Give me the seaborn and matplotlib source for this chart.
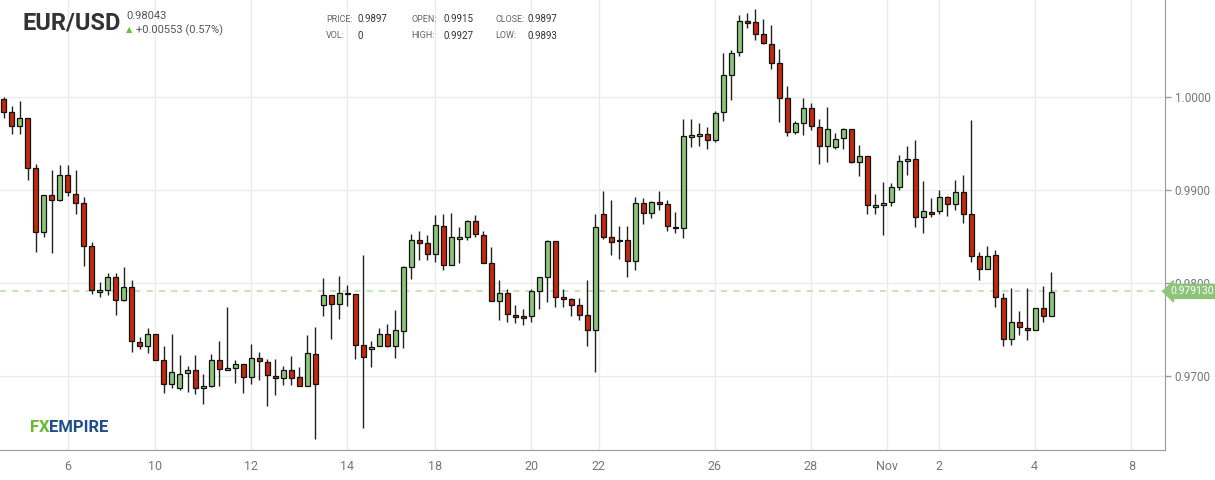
import numpy as np
import matplotlib
matplotlib.use("Agg")
import matplotlib.pyplot as plt
import seaborn as sns

# OHLC, one candle per period
opens = [0.9998, 0.9984, 0.9969, 0.9978, 0.9924, 0.9855, 0.9895, 0.9890, 0.9916, 0.9896,
         0.9886, 0.9840, 0.9791, 0.9793, 0.9807, 0.9782, 0.9796, 0.9737, 0.9732, 0.9745,
         0.9718, 0.9692, 0.9687, 0.9703, 0.9707, 0.9687, 0.9690, 0.9717, 0.9707, 0.9709,
         0.9713, 0.9699, 0.9720, 0.9715, 0.9700, 0.9698, 0.9707, 0.9699, 0.9690, 0.9724,
         0.9777, 0.9787, 0.9778, 0.9790, 0.9788, 0.9734, 0.9729, 0.9733, 0.9745, 0.9732,
         0.9749, 0.9817, 0.9847, 0.9843, 0.9832, 0.9862, 0.9820, 0.9848, 0.9850, 0.9867,
         0.9852, 0.9822, 0.9781, 0.9790, 0.9766, 0.9765, 0.9765, 0.9792, 0.9807, 0.9845,
         0.9785, 0.9783, 0.9777, 0.9766, 0.9750, 0.9875, 0.9850, 0.9845, 0.9847, 0.9824,
         0.9886, 0.9876, 0.9887, 0.9885, 0.9861, 0.9859, 0.9957, 0.9958, 0.9960, 0.9954,
         0.9984, 1.0024, 1.0049, 1.0082, 1.0081, 1.0068, 1.0057, 1.0037, 0.9999, 0.9963,
         0.9972, 0.9989, 0.9968, 0.9948, 0.9947, 0.9956, 0.9966, 0.9930, 0.9937, 0.9882,
         0.9884, 0.9887, 0.9904, 0.9931, 0.9934, 0.9871, 0.9877, 0.9878, 0.9893, 0.9885,
         0.9898, 0.9874, 0.9829, 0.9815, 0.9830, 0.9784, 0.9740, 0.9758, 0.9752, 0.9750,
         0.9773, 0.9765]
highs = [1.0000, 0.9991, 0.9996, 0.9978, 0.9928, 0.9895, 0.9922, 0.9927, 0.9927, 0.9922,
         0.9893, 0.9844, 0.9801, 0.9811, 0.9811, 0.9817, 0.9804, 0.9742, 0.9752, 0.9745,
         0.9732, 0.9745, 0.9723, 0.9711, 0.9723, 0.9702, 0.9724, 0.9738, 0.9774, 0.9717,
         0.9713, 0.9735, 0.9726, 0.9719, 0.9719, 0.9711, 0.9722, 0.9710, 0.9744, 0.9753,
         0.9806, 0.9787, 0.9808, 0.9798, 0.9788, 0.9830, 0.9738, 0.9752, 0.9756, 0.9771,
         0.9819, 0.9853, 0.9856, 0.9852, 0.9873, 0.9874, 0.9876, 0.9860, 0.9868, 0.9873,
         0.9856, 0.9839, 0.9803, 0.9794, 0.9777, 0.9772, 0.9794, 0.9807, 0.9846, 0.9845,
         0.9794, 0.9784, 0.9784, 0.9803, 0.9875, 0.9899, 0.9889, 0.9862, 0.9862, 0.9893,
         0.9892, 0.9888, 0.9899, 0.9890, 0.9877, 0.9977, 0.9977, 0.9972, 0.9968, 0.9985,
         1.0048, 1.0051, 1.0089, 1.0091, 1.0095, 1.0084, 1.0078, 1.0052, 1.0012, 0.9974,
         0.9999, 0.9994, 0.9977, 0.9990, 0.9962, 0.9967, 0.9966, 0.9949, 0.9937, 0.9896,
         0.9909, 0.9908, 0.9938, 0.9948, 0.9954, 0.9910, 0.9892, 0.9900, 0.9894, 0.9911,
         0.9916, 0.9976, 0.9834, 0.9840, 0.9836, 0.9790, 0.9795, 0.9770, 0.9795, 0.9773,
         0.9797, 0.9812]
lows = [0.9978, 0.9961, 0.9960, 0.9911, 0.9834, 0.9850, 0.9833, 0.9888, 0.9894, 0.9875,
        0.9819, 0.9788, 0.9785, 0.9787, 0.9766, 0.9781, 0.9726, 0.9729, 0.9725, 0.9717,
        0.9682, 0.9687, 0.9685, 0.9683, 0.9681, 0.9670, 0.9688, 0.9690, 0.9707, 0.9693,
        0.9682, 0.9692, 0.9696, 0.9668, 0.9680, 0.9691, 0.9691, 0.9689, 0.9689, 0.9632,
        0.9765, 0.9740, 0.9762, 0.9776, 0.9719, 0.9644, 0.9710, 0.9733, 0.9731, 0.9720,
        0.9730, 0.9805, 0.9825, 0.9825, 0.9823, 0.9814, 0.9821, 0.9822, 0.9847, 0.9850,
        0.9822, 0.9781, 0.9760, 0.9758, 0.9757, 0.9755, 0.9758, 0.9772, 0.9780, 0.9775,
        0.9774, 0.9765, 0.9760, 0.9733, 0.9705, 0.9848, 0.9830, 0.9826, 0.9807, 0.9814,
        0.9864, 0.9870, 0.9879, 0.9856, 0.9854, 0.9849, 0.9947, 0.9948, 0.9944, 0.9952,
        0.9975, 0.9997, 1.0044, 1.0074, 1.0062, 1.0057, 1.0030, 0.9973, 0.9958, 0.9960,
        0.9959, 0.9965, 0.9928, 0.9930, 0.9944, 0.9944, 0.9929, 0.9915, 0.9874, 0.9874,
        0.9852, 0.9883, 0.9900, 0.9916, 0.9860, 0.9854, 0.9871, 0.9875, 0.9872, 0.9879,
        0.9865, 0.9823, 0.9804, 0.9815, 0.9774, 0.9732, 0.9734, 0.9744, 0.9739, 0.9750,
        0.9758, 0.9765]
closes = [0.9984, 0.9969, 0.9978, 0.9924, 0.9855, 0.9895, 0.9890, 0.9916, 0.9898, 0.9886,
          0.9840, 0.9793, 0.9793, 0.9807, 0.9782, 0.9796, 0.9738, 0.9732, 0.9745, 0.9718,
          0.9692, 0.9705, 0.9702, 0.9707, 0.9687, 0.9690, 0.9717, 0.9708, 0.9709, 0.9713,
          0.9699, 0.9720, 0.9716, 0.9701, 0.9698, 0.9707, 0.9698, 0.9690, 0.9725, 0.9692,
          0.9787, 0.9778, 0.9790, 0.9788, 0.9734, 0.9721, 0.9731, 0.9745, 0.9732, 0.9750,
          0.9817, 0.9847, 0.9843, 0.9832, 0.9863, 0.9820, 0.9850, 0.9850, 0.9867, 0.9853,
          0.9822, 0.9781, 0.9790, 0.9767, 0.9764, 0.9763, 0.9792, 0.9807, 0.9845, 0.9785,
          0.9783, 0.9777, 0.9766, 0.9750, 0.9861, 0.9850, 0.9844, 0.9847, 0.9824, 0.9886,
          0.9876, 0.9887, 0.9885, 0.9862, 0.9859, 0.9958, 0.9959, 0.9960, 0.9954, 0.9983,
          1.0024, 1.0048, 1.0082, 1.0080, 1.0068, 1.0058, 1.0037, 0.9999, 0.9963, 0.9972,
          0.9989, 0.9969, 0.9948, 0.9966, 0.9955, 0.9966, 0.9930, 0.9937, 0.9884, 0.9884,
          0.9886, 0.9903, 0.9931, 0.9934, 0.9871, 0.9878, 0.9875, 0.9893, 0.9885, 0.9898,
          0.9875, 0.9829, 0.9815, 0.9829, 0.9785, 0.9740, 0.9758, 0.9753, 0.9750, 0.9773,
          0.9765, 0.9791]

# date ticks (position in candle index units) and labels
tick_pos = [8.0, 18.9, 31.0, 42.9, 54.0, 66.0, 74.4, 88.9, 100.9, 110.5, 116.9, 128.9, 141.0]
tick_labels = ["6", "10", "12", "14", "18", "20", "22", "26", "28", "Nov", "2", "4", "8"]
price_ticks = [0.97, 0.98, 0.99, 1.00]
last_price = 0.979130

sns.set_style("white")
plt.rcParams["font.family"] = ["Roboto", "DejaVu Sans"]

green = "#8bc47a"
red = "#c12a0c"
grey = "#777777"

fig = plt.figure(figsize=(12.15, 4.8), dpi=100)
ax = fig.add_axes([0, 0.0625, 1165 / 1215, 0.9375])

x = np.arange(len(opens))
o = np.array(opens); h = np.array(highs); l = np.array(lows); c = np.array(closes)
up = c >= o
colors = np.where(up, green, red)

ax.vlines(x, l, h, color="#222222", linewidth=1.0, zorder=2)
bottom = np.minimum(o, c)
height = np.maximum(np.abs(c - o), 0.00006)
ax.bar(x, height, bottom=bottom, width=0.62, color=colors, edgecolor="#111111",
       linewidth=0.9, zorder=3)

ax.set_xlim(-0.44, 145.2)
ax.set_ylim(0.96207, 1.01046)

ax.set_xticks(tick_pos)
ax.set_xticklabels(tick_labels)
ax.set_yticks(price_ticks)
ax.set_yticklabels([f"{v:.4f}" for v in price_ticks])
ax.yaxis.tick_right()
ax.grid(True, color="#ebebeb", linewidth=1.0)
ax.set_axisbelow(True)
for s in ["left", "top"]:
    ax.spines[s].set_visible(False)
for s in ["right", "bottom"]:
    ax.spines[s].set_color("#999999")
ax.tick_params(axis="both", colors="#999999", labelcolor=grey, labelsize=9,
               length=4, width=1, direction="out")
ax.tick_params(axis="y", pad=3, labelsize=8.5)

# last price line and tag
ax.axhline(last_price, color="#b8dca8", linestyle=(0, (4, 4)), linewidth=1.1, zorder=1)
ax.annotate(f"{last_price:.6f}", xy=(1.0, last_price), xycoords=("axes fraction", "data"),
            xytext=(4, 0), textcoords="offset points", va="center", ha="left",
            color="white", fontsize=7.5, zorder=5, annotation_clip=False,
            bbox=dict(boxstyle="larrow,pad=0.2", fc=green, ec=green))

# header
fig.text(22 / 1215, 1 - 23 / 480, "EUR/USD", fontsize=17, fontweight="bold",
         color="#333333", va="center")
fig.text(126 / 1215, 1 - 16 / 480, "0.98043", fontsize=8, color="#555555", va="center")
fig.text(126 / 1215, 1 - 30 / 480, "\u25B2", fontsize=6, color="#6bbf3b", va="center")
fig.text(136 / 1215, 1 - 30 / 480, "+0.00553 (0.57%)", fontsize=8, color="#555555", va="center")
info = [("PRICE:", "0.9897", 326, 357, 19), ("VOL:", "0", 326, 357, 36),
        ("OPEN:", "0.9915", 411, 443, 19), ("HIGH:", "0.9927", 411, 443, 36),
        ("CLOSE:", "0.9897", 495, 527, 19), ("LOW:", "0.9893", 495, 527, 36)]
for lab, val, x1, x2, yy in info:
    fig.text(x1 / 1215, 1 - yy / 480, lab, fontsize=6.5, color="#666666", va="center")
    fig.text(x2 / 1215, 1 - yy / 480, val, fontsize=7, color="#333333", va="center")

# logo
fig.text(30 / 1215, 1 - 427 / 480, "FX", fontsize=12, color="#6cbb2f", va="center",
         fontweight="bold")
fig.text(49 / 1215, 1 - 427 / 480, "EMPIRE", fontsize=12, color="#1f4e8c", va="center",
         fontweight="bold")

fig.savefig("out.png", dpi=100)
